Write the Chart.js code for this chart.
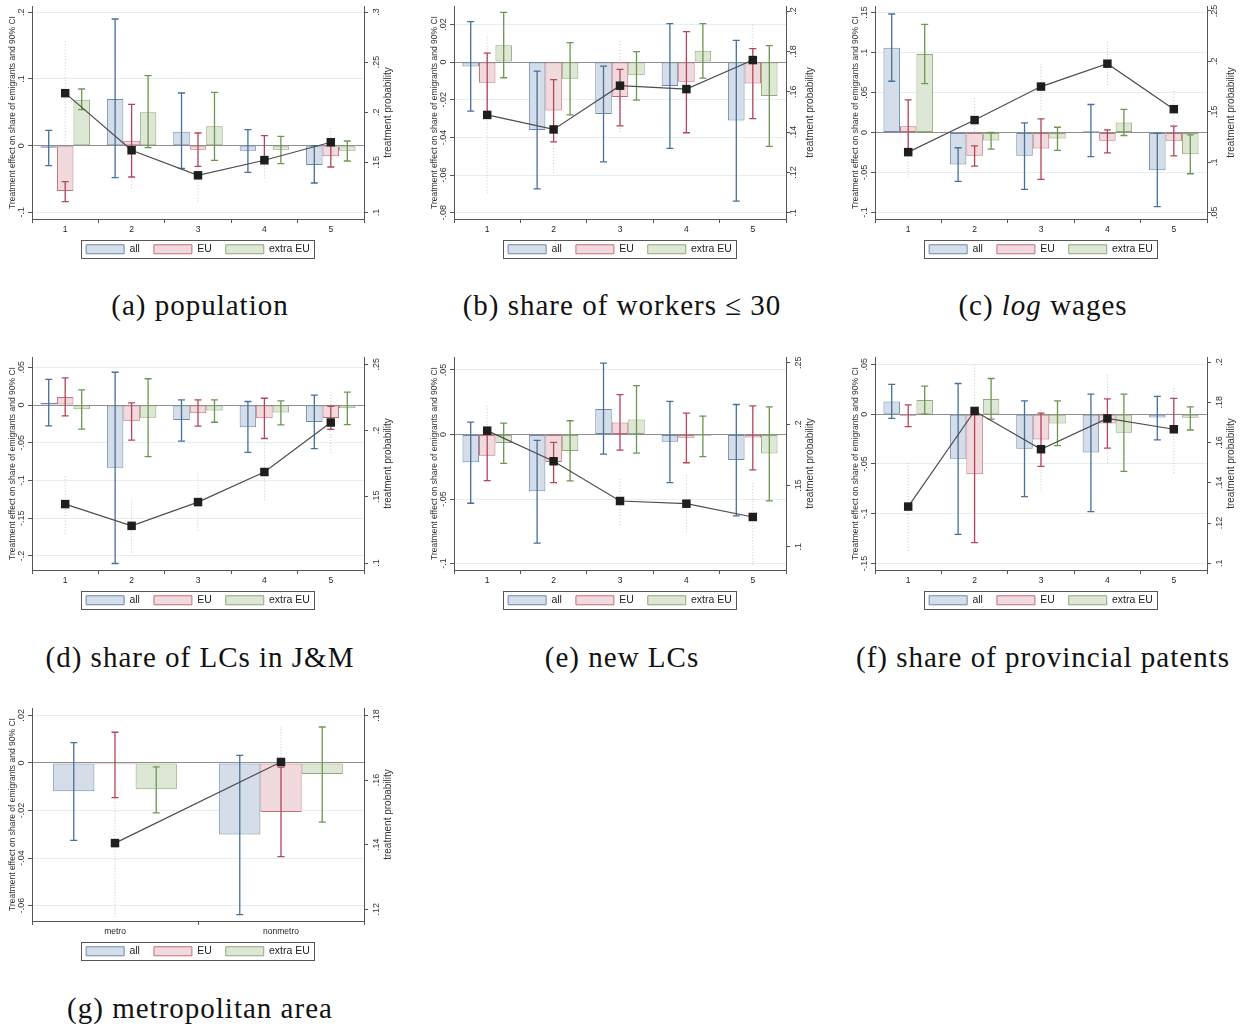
<!DOCTYPE html>
<html>
<head>
<meta charset="utf-8">
<script src="https://cdn.jsdelivr.net/npm/chart.js@4.4.1/dist/chart.umd.min.js"></script>
<style>
  body { margin: 0; background: #fff; width: 1242px; height: 1026px; position: relative; overflow: hidden; }
  canvas { position: absolute; }
  .cap { position: absolute; width: 410px; text-align: center; font-family: 'Liberation Serif', serif;
         font-size: 29px; letter-spacing: 1px; line-height: 34px; color: #111; white-space: nowrap; }
</style>
</head>
<body>
<script>
// categories
const groups = ['1', '2', '3', '4', '5'];
const metroGroups = ['metro', 'nonmetro'];

// (a) population
const a_all = [-0.003, 0.070, 0.021, -0.0075, -0.029];
const a_allCI = [[-0.030, 0.023], [-0.048, 0.190], [-0.034, 0.079], [-0.040, 0.024], [-0.056, 0.000]];
const a_eu = [-0.068, 0.0075, -0.006, -0.001, -0.016];
const a_euCI = [[-0.084, -0.054], [-0.047, 0.062], [-0.031, 0.019], [-0.016, 0.015], [-0.032, 0.004]];
const a_ext = [0.069, 0.050, 0.029, -0.006, -0.0075];
const a_extCI = [[0.054, 0.085], [-0.003, 0.105], [-0.022, 0.080], [-0.027, 0.014], [-0.023, 0.007]];
const a_prob = [0.219, 0.162, 0.137, 0.152, 0.170];
const a_probCI = [[0.165, 0.273], [0.124, 0.200], [0.111, 0.163], [0.134, 0.170], [0.156, 0.185]];
const a_ticks = [-0.1, 0, 0.1, 0.2];
const a_ticksR = [0.1, 0.15, 0.2, 0.25, 0.3];

// (b) share of workers <= 30
const b_all = [-0.0023, -0.036, -0.0275, -0.0127, -0.031];
const b_allCI = [[-0.026, 0.0215], [-0.0673, -0.0048], [-0.053, -0.0021], [-0.0458, 0.0204], [-0.0738, 0.0116]];
const b_eu = [-0.011, -0.0257, -0.0185, -0.0104, -0.0114];
const b_euCI = [[-0.027, 0.0048], [-0.0424, -0.0093], [-0.0338, -0.0039], [-0.0375, 0.0162], [-0.030, 0.0072]];
const b_ext = [0.009, -0.0088, -0.007, 0.006, -0.018];
const b_extCI = [[-0.0083, 0.0264], [-0.028, 0.0104], [-0.0202, 0.0056], [-0.0085, 0.0204], [-0.0447, 0.0088]];
const b_prob = [0.1485, 0.1413, 0.163, 0.1613, 0.1757];
const b_probCI = [[0.1095, 0.1877], [0.1197, 0.160], [0.140, 0.1857], [0.140, 0.180], [0.157, 0.194]];
const b_ticks = [-0.08, -0.06, -0.04, -0.02, 0, 0.02];
const b_ticksR = [0.1, 0.12, 0.14, 0.16, 0.18, 0.2];

// (c) log wages
const c_all = [0.106, -0.040, -0.029, 0.0017, -0.047];
const c_allCI = [[0.064, 0.148], [-0.061, -0.019], [-0.071, 0.012], [-0.030, 0.035], [-0.0926, -0.001]];
const c_eu = [0.0079, -0.029, -0.020, -0.0104, -0.0104];
const c_euCI = [[-0.026, 0.0407], [-0.042, -0.0166], [-0.0586, 0.017], [-0.0253, 0.0033], [-0.0291, 0.0079]];
const c_ext = [0.098, -0.010, -0.0075, 0.0125, -0.027];
const c_extCI = [[0.061, 0.135], [-0.0208, 0], [-0.0224, 0.0066], [-0.0037, 0.029], [-0.0515, -0.003]];
const c_prob = [0.110, 0.1418, 0.175, 0.1977, 0.1526];
const c_probCI = [[0.0845, 0.135], [0.118, 0.1638], [0.152, 0.198], [0.1766, 0.219], [0.131, 0.172]];
const c_ticks = [-0.1, -0.05, 0, 0.05, 0.1, 0.15];
const c_ticksR = [0.05, 0.1, 0.15, 0.2, 0.25];

// (d) share of LCs in J&M
const d_all = [0.003, -0.083, -0.0198, -0.0293, -0.0224];
const d_allCI = [[-0.0275, 0.034], [-0.21, 0.0435], [-0.0478, 0.0069], [-0.0628, 0.0047], [-0.0577, 0.0133]];
const d_eu = [0.0108, -0.0215, -0.0108, -0.0176, -0.0172];
const d_euCI = [[-0.0142, 0.036], [-0.0465, 0.003], [-0.028, 0.0069], [-0.0443, 0.009], [-0.0323, -0.0017]];
const d_ext = [-0.0056, -0.0168, -0.0073, -0.0099, -0.0043];
const d_extCI = [[-0.032, 0.020], [-0.0684, 0.0349], [-0.0228, 0.0069], [-0.0262, 0.0056], [-0.0258, 0.0172]];
const d_prob = [0.1445, 0.1281, 0.146, 0.1687, 0.206];
const d_probCI = [[0.122, 0.167], [0.108, 0.149], [0.1245, 0.168], [0.1472, 0.191], [0.183, 0.2285]];
const d_ticks = [-0.2, -0.15, -0.1, -0.05, 0, 0.05];
const d_ticksR = [0.1, 0.15, 0.2, 0.25];

// (e) new LCs
const e_all = [-0.0216, -0.044, 0.0198, -0.0057, -0.0198];
const e_allCI = [[-0.0533, 0.0095], [-0.0842, -0.0046], [-0.0152, 0.0553], [-0.0373, 0.0257], [-0.063, 0.0232]];
const e_eu = [-0.0165, -0.0214, 0.0093, -0.0026, -0.0023];
const e_euCI = [[-0.0358, 0.003], [-0.0373, -0.0062], [-0.0121, 0.0309], [-0.0219, 0.0165], [-0.0275, 0.0221]];
const e_ext = [-0.0067, -0.0129, 0.0116, -0.001, -0.0147];
const e_extCI = [[-0.0224, 0.0087], [-0.036, 0.0106], [-0.0144, 0.0378], [-0.0172, 0.0142], [-0.0515, 0.0214]];
const e_prob = [0.1946, 0.1697, 0.1373, 0.1351, 0.1243];
const e_probCI = [[0.175, 0.2154], [0.150, 0.188], [0.1176, 0.1568], [0.1116, 0.1586], [0.085, 0.1527]];
const e_ticks = [-0.1, -0.05, 0, 0.05];
const e_ticksR = [0.1, 0.15, 0.2, 0.25];

// (f) share of provincial patents
const f_all = [0.0126, -0.0448, -0.0348, -0.0385, -0.0033];
const f_allCI = [[-0.0043, 0.0299], [-0.1207, 0.0308], [-0.0829, 0.0133], [-0.0978, 0.0202], [-0.0259, 0.0179]];
const f_eu = [-0.0017, -0.0604, -0.0255, -0.0093, 0.0007];
const f_euCI = [[-0.0126, 0.0093], [-0.129, 0.0066], [-0.0524, 0.001], [-0.0342, 0.0153], [-0.012, 0.0159]];
const f_ext = [0.0143, 0.0153, -0.0093, -0.0186, -0.0036];
const f_extCI = [[0, 0.0282], [-0.005, 0.0358], [-0.0315, 0.0133], [-0.0574, 0.0202], [-0.0159, 0.0073]];
const f_prob = [0.1282, 0.1757, 0.1567, 0.172, 0.1666];
const f_probCI = [[0.1062, 0.150], [0.155, 0.199], [0.1357, 0.1774], [0.150, 0.1943], [0.1448, 0.1882]];
const f_ticks = [-0.15, -0.1, -0.05, 0, 0.05];
const f_ticksR = [0.1, 0.12, 0.14, 0.16, 0.18, 0.2];

// (g) metropolitan area
const g_all = [-0.0119, -0.0301];
const g_allCI = [[-0.0326, 0.0085], [-0.0638, 0.0032]];
const g_eu = [-0.0006, -0.0206];
const g_euCI = [[-0.0146, 0.0129], [-0.0394, -0.0018]];
const g_ext = [-0.0111, -0.0047];
const g_extCI = [[-0.021, -0.0017], [-0.0249, 0.0151]];
const g_prob = [0.1405, 0.1656];
const g_probCI = [[0.1177, 0.1536], [0.155, 0.177]];
const g_ticks = [-0.06, -0.04, -0.02, 0, 0.02];
const g_ticksR = [0.12, 0.14, 0.16, 0.18];

const FONT = "'Liberation Sans', Arial, sans-serif";
const leftTitle = 'Treatment effect on share of emigrants and 90% CI';
const rightTitle = 'treatment probability';

// Stata style labels: .1, -.05, 0
const fmt = v => String(Math.round(v * 1000) / 1000).replace(/^(-?)0\./, '$1.');

function vtext(ctx, s, x, y) {
  ctx.save();
  ctx.translate(x, y);
  ctx.rotate(-Math.PI / 2);
  ctx.fillText(s, 0, 0);
  ctx.restore();
}

const decor = {
  id: 'decor',
  beforeDatasetsDraw(chart) {
    // dotted CI of the treatment probability
    const ctx = chart.ctx, x = chart.scales.x, y1 = chart.scales.y1;
    const ci = chart.data.datasets[3].ci;
    ctx.save();
    ctx.strokeStyle = '#c6c6c6';
    ctx.lineWidth = 1;
    ctx.setLineDash([1, 2]);
    ci.forEach((c, i) => {
      const px = x.getPixelForValue(i);
      ctx.beginPath();
      ctx.moveTo(px, y1.getPixelForValue(c[0]));
      ctx.lineTo(px, y1.getPixelForValue(c[1]));
      ctx.stroke();
    });
    ctx.restore();
  },
  afterDatasetDraw(chart, args) {
    const ds = chart.data.datasets[args.index];
    if (ds.type === 'line') return;
    const ctx = chart.ctx, y = chart.scales.y;
    ctx.save();
    ctx.strokeStyle = ds.whisker;
    ctx.lineWidth = 1.3;
    args.meta.data.forEach((bar, i) => {
      const a = y.getPixelForValue(ds.ci[i][0]), b = y.getPixelForValue(ds.ci[i][1]);
      ctx.beginPath();
      ctx.moveTo(bar.x, a); ctx.lineTo(bar.x, b);
      ctx.moveTo(bar.x - 3.5, a); ctx.lineTo(bar.x + 3.5, a);
      ctx.moveTo(bar.x - 3.5, b); ctx.lineTo(bar.x + 3.5, b);
      ctx.stroke();
    });
    ctx.restore();
  },
  afterDraw(chart) {
    const ctx = chart.ctx, area = chart.chartArea;
    const x = chart.scales.x, y = chart.scales.y, y1 = chart.scales.y1;
    const rOff = chart.options.plugins.decor.rOff;
    ctx.save();
    ctx.fillStyle = '#333';
    ctx.textAlign = 'center';
    ctx.textBaseline = 'middle';
    ctx.font = '9px ' + FONT;
    y.ticks.forEach(t => vtext(ctx, fmt(t.value), area.left - 10.5, y.getPixelForValue(t.value)));
    y1.ticks.forEach(t => vtext(ctx, fmt(t.value), area.right + rOff, y1.getPixelForValue(t.value)));
    ctx.font = '8.5px ' + FONT;
    vtext(ctx, leftTitle, area.left - 19.5, (area.top + area.bottom) / 2);
    ctx.font = '10px ' + FONT;
    vtext(ctx, rightTitle, area.right + 24, (area.top + area.bottom) / 2);
    // category labels under the axis
    ctx.fillStyle = '#222';
    ctx.font = '8.5px ' + FONT;
    chart.data.labels.forEach((lab, i) => ctx.fillText(lab, x.getPixelForValue(i), area.bottom + 11));
    // box round the legend
    const hb = chart.legend.legendHitBoxes;
    const l = Math.min(...hb.map(h => h.left)) - 5;
    const r = Math.max(...hb.map(h => h.left + h.width)) + 4;
    const t = Math.min(...hb.map(h => h.top)) - 4;
    const b = Math.max(...hb.map(h => h.top + h.height)) + 3;
    ctx.strokeStyle = '#555';
    ctx.lineWidth = 1;
    ctx.strokeRect(Math.round(l) + 0.5, Math.round(t) + 0.5, Math.round(r - l), Math.round(b - t));
    ctx.restore();
  }
};

function panel(p) {
  const cv = document.createElement('canvas');
  cv.width = 410; cv.height = 268;
  cv.style.left = p.left + 'px';
  cv.style.top = p.top + 'px';
  document.body.appendChild(cv);

  const cap = document.createElement('div');
  cap.className = 'cap';
  cap.style.left = (p.left + 2) + 'px';
  cap.style.top = p.capY - 17 + 'px';
  cap.innerHTML = p.caption;
  document.body.appendChild(cap);

  const bar = (label, data, ci, fill, border, whisker) => ({
    label, data, ci, whisker, backgroundColor: fill, borderColor: border,
    borderWidth: 1, borderSkipped: false, yAxisID: 'y', order: 1
  });

  new Chart(cv, {
    type: 'bar',
    data: {
      labels: p.cats,
      datasets: [
        bar('all', p.all, p.allCI, '#d4dde8', '#6a8bb0', '#47709a'),
        bar('EU', p.eu, p.euCI, '#f0dadd', '#c56e78', '#b4455a'),
        bar('extra EU', p.ext, p.extCI, '#dee7d6', '#8dab73', '#6d9650'),
        {
          type: 'line', label: 'treatment probability', data: p.prob, ci: p.probCI, yAxisID: 'y1', order: 0,
          borderColor: '#4d4d4d', borderWidth: 1.2, pointStyle: 'rect', pointRadius: 6,
          pointBackgroundColor: '#1e1e1e', pointBorderColor: '#1e1e1e', pointBorderWidth: 0
        }
      ]
    },
    options: {
      responsive: false,
      animation: false,
      layout: { padding: { top: p.padTop, bottom: 3.5, left: 0, right: 0 } },
      datasets: { bar: { categoryPercentage: 0.745, barPercentage: 1 } },
      plugins: {
        tooltip: { enabled: false },
        decor: { rOff: p.rOff },
        legend: {
          position: 'bottom',
          labels: {
            filter: item => item.datasetIndex < 3,
            boxWidth: 38, boxHeight: 9, padding: 14, color: '#222',
            font: { family: FONT, size: 10.5 }
          }
        }
      },
      scales: {
        x: {
          grid: { drawOnChartArea: false, tickLength: 4, tickColor: '#555' },
          border: { color: '#555' },
          ticks: { display: false },
          afterFit: s => { s.height = 11; }
        },
        y: {
          position: 'left', min: p.yMin, max: p.yMax,
          afterBuildTicks: s => { s.ticks = p.yTicks.map(v => ({ value: v })); },
          ticks: { display: false },
          grid: {
            color: c => (c.tick && Math.abs(c.tick.value) < 1e-9 ? '#8f8f8f' : '#e3eef0'),
            tickLength: 4, tickColor: '#555'
          },
          border: { color: '#555' },
          afterFit: s => { s.width = 39; }
        },
        y1: {
          position: 'right', min: p.y1Min, max: p.y1Max,
          afterBuildTicks: s => { s.ticks = p.y1Ticks.map(v => ({ value: v })); },
          ticks: { display: false },
          grid: { drawOnChartArea: false, tickLength: 4, tickColor: '#555' },
          border: { color: '#555' },
          afterFit: s => { s.width = 39; }
        }
      }
    },
    plugins: [decor]
  });
}

panel({ left: -7, top: 0, padTop: 5, capY: 305, rOff: 13, caption: '(a) population', cats: groups,
  all: a_all, allCI: a_allCI, eu: a_eu, euCI: a_euCI, ext: a_ext, extCI: a_extCI, prob: a_prob, probCI: a_probCI,
  yTicks: a_ticks, y1Ticks: a_ticksR, yMin: -0.110, yMax: 0.2095, y1Min: 0.0934, y1Max: 0.306 });

panel({ left: 415, top: 0, padTop: 5, capY: 305, rOff: 8, caption: '(b) share of workers &le; 30', cats: groups,
  all: b_all, allCI: b_allCI, eu: b_eu, euCI: b_euCI, ext: b_ext, extCI: b_extCI, prob: b_prob, probCI: b_probCI,
  yTicks: b_ticks, y1Ticks: b_ticksR, yMin: -0.0833, yMax: 0.0298, y1Min: 0.0969, y1Max: 0.2025 });

panel({ left: 836, top: 0, padTop: 5, capY: 305, rOff: 8, caption: '(c) <i>log</i> wages', cats: groups,
  all: c_all, allCI: c_allCI, eu: c_eu, euCI: c_euCI, ext: c_ext, extCI: c_extCI, prob: c_prob, probCI: c_probCI,
  yTicks: c_ticks, y1Ticks: c_ticksR, yMin: -0.108, yMax: 0.158, y1Min: 0.0437, y1Max: 0.2549 });

panel({ left: -7, top: 351, padTop: 1, capY: 657, rOff: 13, caption: '(d) share of LCs in J&amp;M', cats: groups,
  all: d_all, allCI: d_allCI, eu: d_eu, euCI: d_euCI, ext: d_ext, extCI: d_extCI, prob: d_prob, probCI: d_probCI,
  yTicks: d_ticks, y1Ticks: d_ticksR, yMin: -0.2186, yMax: 0.0637, y1Min: 0.0948, y1Max: 0.2554 });

panel({ left: 415, top: 351, padTop: 5, capY: 657, rOff: 13, caption: '(e) new LCs', cats: groups,
  all: e_all, allCI: e_allCI, eu: e_eu, euCI: e_euCI, ext: e_ext, extCI: e_extCI, prob: e_prob, probCI: e_probCI,
  yTicks: e_ticks, y1Ticks: e_ticksR, yMin: -0.105, yMax: 0.060, y1Min: 0.0811, y1Max: 0.2546 });

panel({ left: 836, top: 351, padTop: 4, capY: 657, rOff: 13, caption: '(f) share of provincial patents', cats: groups,
  all: f_all, allCI: f_allCI, eu: f_eu, euCI: f_euCI, ext: f_ext, extCI: f_extCI, prob: f_prob, probCI: f_probCI,
  yTicks: f_ticks, y1Ticks: f_ticksR, yMin: -0.1565, yMax: 0.0574, y1Min: 0.0967, y1Max: 0.2025 });

panel({ left: -7, top: 702, padTop: 5, capY: 1008, rOff: 13, caption: '(g) metropolitan area', cats: metroGroups,
  all: g_all, allCI: g_allCI, eu: g_eu, euCI: g_euCI, ext: g_ext, extCI: g_extCI, prob: g_prob, probCI: g_probCI,
  yTicks: g_ticks, y1Ticks: g_ticksR, yMin: -0.0665, yMax: 0.0231, y1Min: 0.1164, y1Max: 0.1823 });
</script>
</body>
</html>
